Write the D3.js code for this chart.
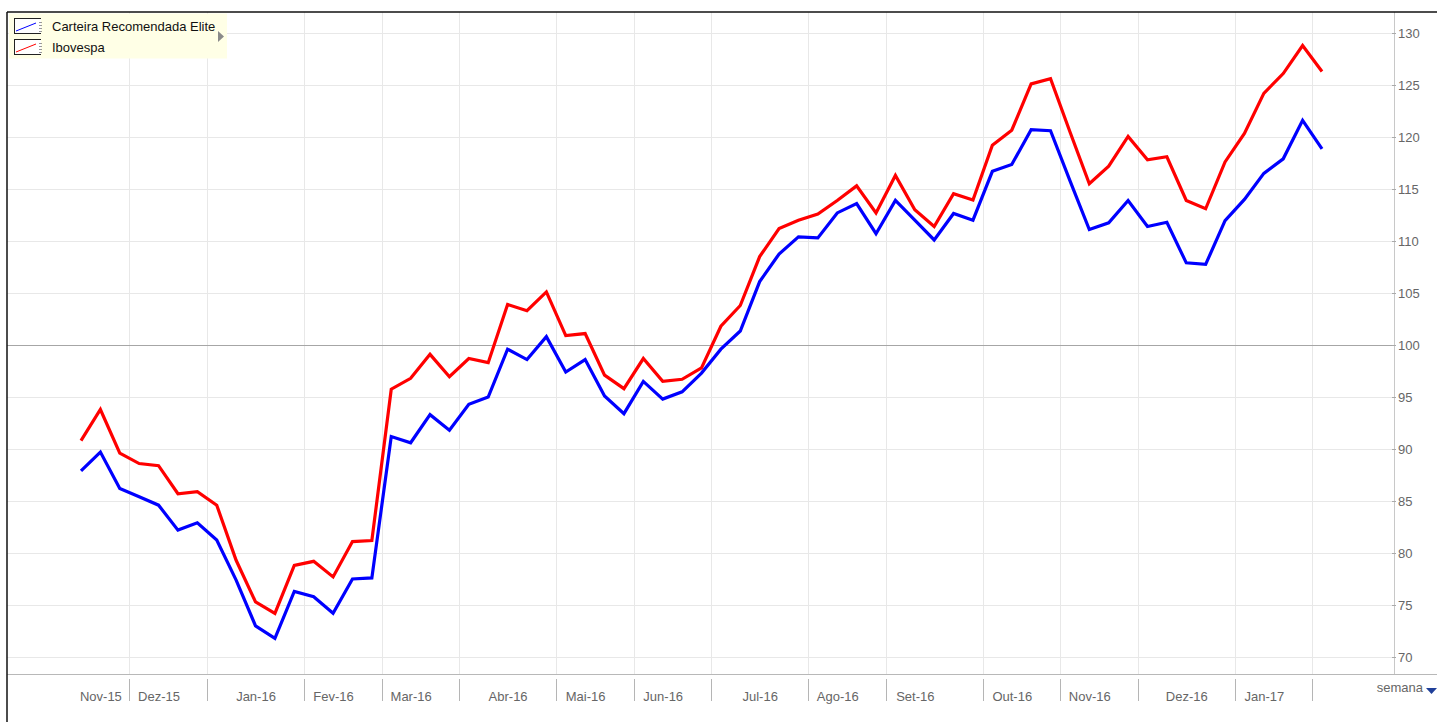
<!DOCTYPE html>
<html>
<head>
<meta charset="utf-8">
<script src="https://cdn.jsdelivr.net/npm/d3@7/dist/d3.min.js"></script>
<style>
  html, body { margin: 0; padding: 0; background: #ffffff; }
  svg { display: block; font-family: "Liberation Sans", Arial, sans-serif; }
</style>
</head>
<body>
<svg id="chart" width="1437" height="722"></svg>
<script>
// ---- data ----
const weeks = [
  "2015-11-13","2015-11-20","2015-11-27","2015-12-04","2015-12-11","2015-12-18","2015-12-25",
  "2016-01-01","2016-01-08","2016-01-15","2016-01-22","2016-01-29",
  "2016-02-05","2016-02-12","2016-02-19","2016-02-26",
  "2016-03-04","2016-03-11","2016-03-18","2016-03-25",
  "2016-04-01","2016-04-08","2016-04-15","2016-04-22","2016-04-29",
  "2016-05-06","2016-05-13","2016-05-20","2016-05-27",
  "2016-06-03","2016-06-10","2016-06-17","2016-06-24",
  "2016-07-01","2016-07-08","2016-07-15","2016-07-22","2016-07-29",
  "2016-08-05","2016-08-12","2016-08-19","2016-08-26",
  "2016-09-02","2016-09-09","2016-09-16","2016-09-23","2016-09-30",
  "2016-10-07","2016-10-14","2016-10-21","2016-10-28",
  "2016-11-04","2016-11-11","2016-11-18","2016-11-25",
  "2016-12-02","2016-12-09","2016-12-16","2016-12-23","2016-12-30",
  "2017-01-06","2017-01-13","2017-01-20","2017-01-27",
  "2017-02-03"
];
const carteira = [
  87.9, 89.7, 86.2, 85.4, 84.6, 82.2, 82.9,
  81.25, 77.4, 73.0, 71.8, 76.3,
  75.8, 74.2, 77.5, 77.6,
  91.2, 90.6, 93.3, 91.8,
  94.3, 95.0, 99.6, 98.6, 100.8,
  97.4, 98.6, 95.1, 93.4,
  96.5, 94.8, 95.5, 97.3,
  99.6, 101.35, 106.1, 108.75, 110.4,
  110.3, 112.7, 113.6, 110.7,
  113.9, 112.0, 110.1, 112.65, 112.0,
  116.7, 117.35, 120.7, 120.6,
  115.8, 111.1, 111.75, 113.9,
  111.4, 111.8, 107.9, 107.75, 111.95,
  114.0, 116.5, 117.9, 121.6,
  118.85
];
const ibovespa = [
  90.8, 93.8, 89.6, 88.6, 88.4, 85.7, 85.9,
  84.6, 79.3, 75.3, 74.2, 78.8,
  79.2, 77.7, 81.1, 81.2,
  95.75, 96.8, 99.1, 96.95,
  98.7, 98.3, 103.9, 103.3, 105.1,
  100.9, 101.1, 97.1, 95.8,
  98.7, 96.5, 96.7, 97.8,
  101.8, 103.8, 108.5, 111.2, 112.0,
  112.6, 113.9, 115.3, 112.7,
  116.3, 113.0, 111.4, 114.55, 113.95,
  119.2, 120.65, 125.1, 125.6,
  120.5, 115.5, 117.2, 120.05,
  117.8, 118.1, 113.9, 113.1, 117.6,
  120.35, 124.2, 126.1, 128.8,
  126.3
];
const seriesNames = ["Carteira Recomendada Elite", "Ibovespa"];
const monthLabels = ["Nov-15","Dez-15","Jan-16","Fev-16","Mar-16","Abr-16","Mai-16","Jun-16",
                     "Jul-16","Ago-16","Set-16","Out-16","Nov-16","Dez-16","Jan-17"];
const monthLabelWeeks = ["2015-11-20","2015-12-11","2016-01-15","2016-02-12","2016-03-11","2016-04-15",
                         "2016-05-13","2016-06-10","2016-07-15","2016-08-12","2016-09-09","2016-10-14",
                         "2016-11-11","2016-12-16","2017-01-13"];
const yTicks = [70, 75, 80, 85, 90, 95, 100, 105, 110, 115, 120, 125, 130];
const baseline = 100;
const periodLabel = "semana";

// ---- layout ----
const svg = d3.select("#chart");
const W = 1437, H = 722;
const frameLeft = 7, frameTop = 12, axisY = 674, axisX = 1394;

const x = d3.scaleLinear().domain([0, weeks.length - 1]).range([81, 1322]);
const y = d3.scaleLinear().domain([70, 130]).range([657, 33]);

const g = svg.append("g");

// horizontal gridlines
g.append("g").selectAll("line").data(yTicks).join("line")
  .attr("x1", frameLeft).attr("x2", axisX)
  .attr("y1", d => Math.round(y(d)) + 0.5).attr("y2", d => Math.round(y(d)) + 0.5)
  .attr("stroke", d => d === baseline ? "#a6a6a6" : "#e8e8e8")
  .attr("stroke-width", 1);

// month boundaries (between weeks where month changes)
const parse = d3.timeParse("%Y-%m-%d");
const wDates = weeks.map(parse);
const boundaries = [];
for (let i = 1; i < wDates.length; i++) {
  if (wDates[i].getMonth() !== wDates[i - 1].getMonth()) boundaries.push(i - 0.5);
}
g.append("g").selectAll("line").data(boundaries).join("line")
  .attr("x1", d => Math.round(x(d)) + 0.5).attr("x2", d => Math.round(x(d)) + 0.5)
  .attr("y1", frameTop).attr("y2", axisY)
  .attr("stroke", "#e8e8e8").attr("stroke-width", 1);
// ticks below the axis
g.append("g").selectAll("line").data(boundaries).join("line")
  .attr("x1", d => Math.round(x(d)) + 0.5).attr("x2", d => Math.round(x(d)) + 0.5)
  .attr("y1", 679).attr("y2", 701)
  .attr("stroke", "#b5b5b5").attr("stroke-width", 1);

// baseline redraw on top of vertical grid
g.append("line")
  .attr("x1", frameLeft).attr("x2", axisX)
  .attr("y1", Math.round(y(baseline)) + 0.5).attr("y2", Math.round(y(baseline)) + 0.5)
  .attr("stroke", "#a6a6a6");

// x axis line
g.append("line").attr("x1", frameLeft).attr("x2", W)
  .attr("y1", axisY + 0.5).attr("y2", axisY + 0.5)
  .attr("stroke", "#b8b8b8");
// y axis line
g.append("line").attr("x1", axisX + 0.5).attr("x2", axisX + 0.5)
  .attr("y1", frameTop).attr("y2", axisY)
  .attr("stroke", "#c8c8c8");

// y axis (right)
const yAxis = d3.axisRight(y).tickValues(yTicks).tickSize(4).tickPadding(2);
const yg = svg.append("g").attr("transform", `translate(${axisX - 2},0)`).call(yAxis);
yg.select(".domain").remove();
yg.selectAll(".tick line").attr("stroke", "#aaaaaa");
yg.selectAll(".tick text").attr("fill", "#666666")
  .style("font-size", "13px").style("font-family", "'Liberation Sans', Arial, sans-serif");

// x axis labels
const labelIdx = monthLabelWeeks.map(w => weeks.indexOf(w));
const xAxis = d3.axisBottom(x).tickValues(labelIdx)
  .tickFormat((d, i) => monthLabels[i]).tickSize(0).tickPadding(0);
const xg = svg.append("g").attr("transform", `translate(0,692)`).call(xAxis);
xg.select(".domain").remove();
xg.selectAll(".tick text").attr("fill", "#666666")
  .style("font-size", "13px").style("font-family", "'Liberation Sans', Arial, sans-serif");

// period label
svg.append("text").attr("x", 1423).attr("y", 692).attr("text-anchor", "end")
  .attr("fill", "#666666").style("font-size", "13px").text(periodLabel);
svg.append("path").attr("d", "M1426,688 L1437,688 L1431.5,694 Z").attr("fill", "#1f3f99");

// lines
const line = d3.line().x((d, i) => x(i)).y(d => y(d));
const series = [
  { name: seriesNames[0], values: carteira, color: "#0000ff" },
  { name: seriesNames[1], values: ibovespa, color: "#ff0000" }
];
svg.append("g").selectAll("path").data(series).join("path")
  .attr("d", d => line(d.values))
  .attr("fill", "none")
  .attr("stroke", d => d.color)
  .attr("stroke-width", 3.2)
  .attr("stroke-linejoin", "miter");

// frame
svg.append("line").attr("x1", frameLeft).attr("x2", W).attr("y1", frameTop).attr("y2", frameTop)
  .attr("stroke", "#111").attr("stroke-width", 1.5);
svg.append("line").attr("x1", frameLeft).attr("x2", frameLeft).attr("y1", frameTop).attr("y2", H)
  .attr("stroke", "#111").attr("stroke-width", 1.5);

// legend
const lg = svg.append("g");
lg.append("rect").attr("x", 9).attr("y", 13.5).attr("width", 218).attr("height", 45)
  .attr("fill", "#ffffe6");
series.forEach((s, i) => {
  const top = 18 + i * 21;
  const item = lg.append("g");
  item.append("rect").attr("x", 14.5).attr("y", top + 0.5).attr("width", 28).attr("height", 15)
    .attr("fill", "#ffffff").attr("stroke", "#222").attr("stroke-width", 1);
  item.append("line").attr("x1", 16).attr("y1", top + 13).attr("x2", 36).attr("y2", top + 5)
    .attr("stroke", s.color).attr("stroke-width", 1);
  item.append("rect").attr("x", 41).attr("y", top).attr("width", 3).attr("height", 16).attr("fill", "#ffffe6");
  [4, 7, 10, 13].forEach(t => {
    item.append("line").attr("x1", 39).attr("x2", 42).attr("y1", top + t + 0.5).attr("y2", top + t + 0.5)
      .attr("stroke", "#999999").attr("stroke-width", 1);
  });
  item.append("text").attr("x", 52).attr("y", top + 13).attr("fill", "#111")
    .style("font-size", "13px").text(s.name);
});
lg.append("path").attr("d", "M218,31 L224,36.5 L218,42 Z").attr("fill", "#8a8a8a");
</script>
</body>
</html>
